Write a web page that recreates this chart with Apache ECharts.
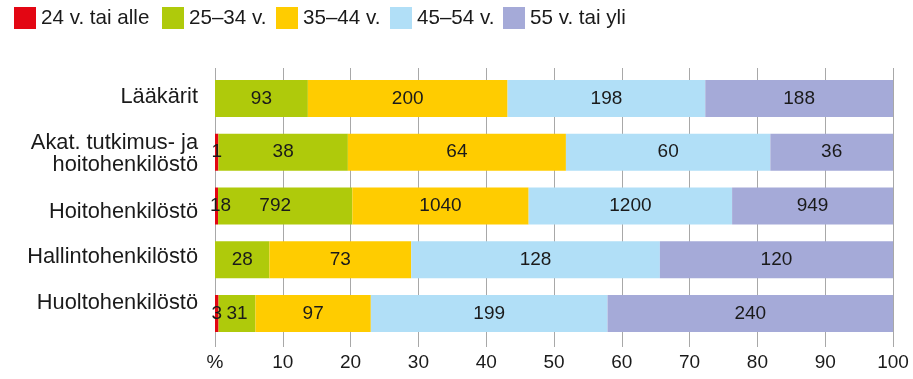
<!DOCTYPE html>
<html>
<head>
<meta charset="utf-8">
<script src="https://cdn.jsdelivr.net/npm/echarts@6/dist/echarts.min.js"></script>
<style>
  html, body { margin: 0; padding: 0; background: #fff; }
  #chart { width: 913px; height: 379px; }
</style>
</head>
<body>
<div id="chart"></div>
<script>
// Staff groups (top to bottom)
var categories = [
  'Lääkärit',
  'Akat. tutkimus- ja\nhoitohenkilöstö',
  'Hoitohenkilöstö',
  'Hallintohenkilöstö',
  'Huoltohenkilöstö'
];

// Age groups
var ageGroups = ['24 v. tai alle', '25–34 v.', '35–44 v.', '45–54 v.', '55 v. tai yli'];

// Headcounts per age group, one value per staff group
var age24 = [0, 1, 18, 0, 3];
var age25 = [93, 38, 792, 28, 31];
var age35 = [200, 64, 1040, 73, 97];
var age45 = [198, 60, 1200, 128, 199];
var age55 = [188, 36, 949, 120, 240];

// Percentage axis ticks
var xTicks = [0, 10, 20, 30, 40, 50, 60, 70, 80, 90, 100];

var colors = ['#e30613', '#afca0b', '#ffcc00', '#b1dff7', '#a5aad8'];
var counts = [age24, age25, age35, age45, age55];

var totals = categories.map(function (_, i) {
  return counts.reduce(function (s, arr) { return s + arr[i]; }, 0);
});

var textColor = '#1a1a1a';
var fontFamily = '"Liberation Sans", Arial, Helvetica, sans-serif';

var series = counts.map(function (arr, k) {
  return {
    name: ageGroups[k],
    type: 'bar',
    stack: 'total',
    xAxisIndex: 0,
    yAxisIndex: 0,
    barWidth: 37,
    itemStyle: { color: colors[k] },
    label: {
      show: true,
      position: 'inside',
      color: textColor,
      fontSize: 19,
      fontFamily: fontFamily,
      formatter: function (p) { return arr[p.dataIndex] > 0 ? String(arr[p.dataIndex]) : ''; }
    },
    data: arr.map(function (v, i) {
      var item = { value: v / totals[i] * 100 };
      // two-digit label of the thin first segment and the wide label next to it
      // are nudged apart so they do not run into each other
      if (age24[i] >= 10) {
        if (k === 0) item.label = { offset: [4, 0] };
        if (k === 1) item.label = { offset: [-10, 0] };
      }
      return item;
    })
  };
});

var legends = ageGroups.map(function (name, k) {
  var lefts = [14, 162, 276, 390, 503];
  return {
    data: [name],
    left: lefts[k],
    top: 7,
    itemWidth: 22,
    itemHeight: 22,
    itemGap: 0,
    icon: 'rect',
    padding: 0,
    selectedMode: false,
    textStyle: { color: textColor, fontSize: 20.6, fontFamily: fontFamily }
  };
});

// vertical nudge of each row caption (px, negative = up)
var captionShift = [-1, 2, 6, -3, -11];
var rich = {};
captionShift.forEach(function (d, i) {
  rich['c' + i] = {
    color: textColor, fontSize: 21.8, fontFamily: fontFamily, lineHeight: 22, align: 'right',
    padding: d < 0 ? [0, 0, -2 * d, 0] : [2 * d, 0, 0, 0]
  };
});

var option = {
  animation: false,
  backgroundColor: '#fff',
  legend: legends,
  grid: [
    { left: 215, right: 20, top: 71.6, bottom: 38.6, containLabel: false },
    { left: 215, right: 20, top: 68, bottom: 32, containLabel: false }
  ],
  xAxis: [
    {
      gridIndex: 0, type: 'value', min: 0, max: 100, interval: 10,
      show: false
    },
    {
      gridIndex: 1, type: 'value', min: xTicks[0], max: xTicks[xTicks.length - 1], interval: 10,
      axisLine: { show: false },
      axisTick: { show: false },
      splitLine: { show: true, lineStyle: { color: '#a8a8a8', width: 1 } },
      axisLabel: {
        color: textColor, fontSize: 19, fontFamily: fontFamily, margin: 6,
        formatter: function (v) { return v === 0 ? '%' : String(v); }
      }
    }
  ],
  yAxis: [
    {
      gridIndex: 0, type: 'category', data: categories, inverse: true,
      axisLine: { show: false },
      axisTick: { show: false },
      splitLine: { show: false },
      axisLabel: {
        margin: 17,
        formatter: function (v, i) {
          return v.split('\n').map(function (line) { return '{c' + i + '|' + line + '}'; }).join('\n');
        },
        rich: rich
      }
    },
    {
      gridIndex: 1, type: 'value', show: false
    }
  ],
  series: series
};

var chart = echarts.init(document.getElementById('chart'), null, { renderer: 'canvas' });
chart.setOption(option);
</script>
</body>
</html>
